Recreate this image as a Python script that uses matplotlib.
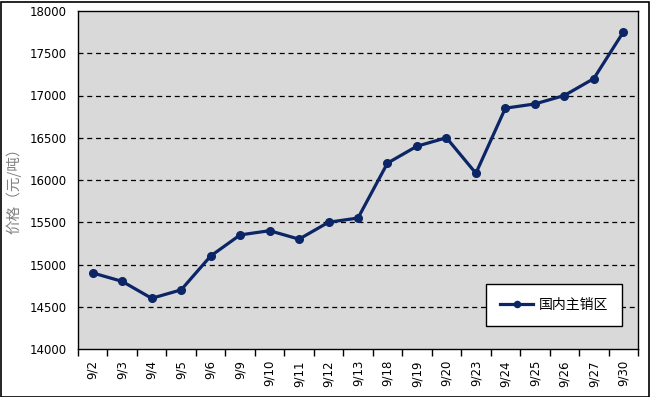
import matplotlib
matplotlib.use('Agg')
import matplotlib.pyplot as plt
from matplotlib.patches import Rectangle
from matplotlib.ticker import FixedLocator, NullFormatter

plt.rcParams['font.family'] = ['DejaVu Sans', 'Noto Sans CJK SC']

# ============================
# Datos
# ============================
fechas = ['9/2', '9/3', '9/4', '9/5', '9/6', '9/9', '9/10', '9/11', '9/12', '9/13',
          '9/18', '9/19', '9/20', '9/23', '9/24', '9/25', '9/26', '9/27', '9/30']
precio = [14900, 14800, 14600, 14700, 15100, 15350, 15400, 15300, 15500, 15550,
          16200, 16400, 16500, 16080, 16850, 16900, 17000, 17200, 17750]
serie = '国内主销区'
y_ticks = [14000, 14500, 15000, 15500, 16000, 16500, 17000, 17500, 18000]

color_linea = '#0b2566'
cjk = ['Noto Sans CJK SC', 'DejaVu Sans']

# ============================
# Figura
# ============================
fig = plt.figure(figsize=(6.5, 3.97), dpi=100)
fig.patch.set_facecolor('white')
ax = fig.add_axes([78/650, 1 - 349/397, 560/650, 338/397])
ax.set_facecolor('#d9d9d9')

xs = list(range(len(fechas)))
ax.plot(xs, precio, color=color_linea, linewidth=2.3, marker='o', markersize=5.5,
        label=serie, zorder=3)

ax.set_xlim(-0.5, len(fechas) - 0.5)
ax.set_ylim(14000, 18000)
ax.set_yticks(y_ticks)
ax.tick_params(axis='y', length=0, labelsize=8.5, pad=8)

# Ticks del eje x: etiquetas al centro, marcas entre categorías
ax.set_xticks(xs)
ax.set_xticklabels(fechas, rotation=90, fontsize=8.5)
ax.tick_params(axis='x', which='major', length=0, pad=8)
ax.xaxis.set_minor_locator(FixedLocator([i - 0.5 for i in range(len(fechas) + 1)]))
ax.xaxis.set_minor_formatter(NullFormatter())
ax.tick_params(axis='x', which='minor', length=5, width=1, direction='out')

for v in y_ticks[1:-1]:
    ax.axhline(v, color='black', linewidth=0.9, linestyle=(0, (4, 3)), zorder=1)

for s in ax.spines.values():
    s.set_color('black')
    s.set_linewidth(1)

# Etiqueta del eje y
fig.text(14/650, 1 - 187/397, '价格（元/吨）', rotation=90, ha='center', va='center',
         color='#808080', fontsize=10.5, family=cjk)

leg = ax.legend(loc='lower right', bbox_to_anchor=(622/650, 1 - 326/397),
                bbox_transform=fig.transFigure, frameon=True, fancybox=False,
                prop={'family': cjk, 'size': 10}, markerscale=0.8,
                borderpad=1.0, handlelength=2.4, handletextpad=0.4,
                borderaxespad=0)
leg.get_frame().set_edgecolor('black')
leg.get_frame().set_facecolor('white')
leg.get_frame().set_linewidth(1)
leg.get_frame().set_alpha(1)

# Borde de la figura
fig.patches.append(Rectangle((0.5/650, 0.5/397), 1 - 2/650, 1 - 2/397,
                             transform=fig.transFigure, fill=False,
                             edgecolor='black', linewidth=1.2))

plt.savefig('out.png', dpi=100)
